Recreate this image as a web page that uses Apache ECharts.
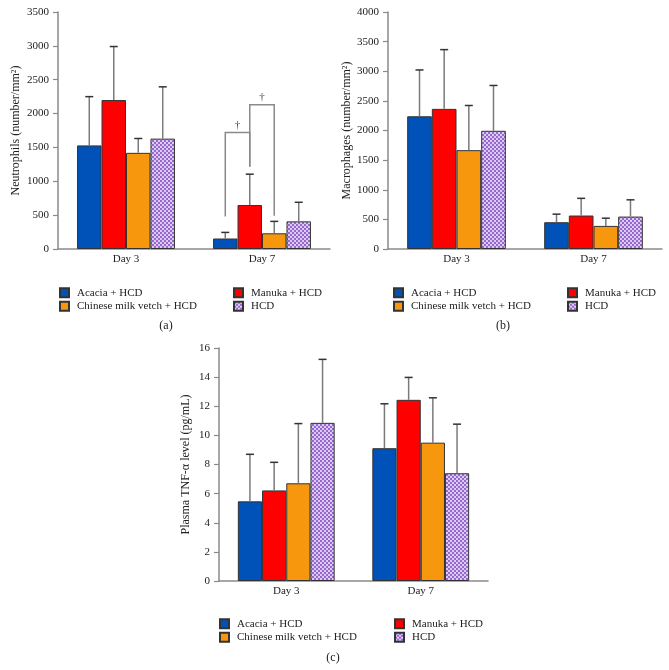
<!DOCTYPE html>
<html>
<head>
<meta charset="utf-8">
<script src="https://cdn.jsdelivr.net/npm/echarts@6/dist/echarts.min.js"></script>
<style>html,body{margin:0;padding:0;background:#fff}#c{width:669px;height:670px}</style>
</head>
<body>
<div id="c"></div>
<script>
// ---- data ----
var days = ['Day 3', 'Day 7'];
var groups = ['Acacia + HCD', 'Manuka + HCD', 'Chinese milk vetch + HCD', 'HCD'];

// (a) Neutrophils (number/mm^2): mean, mean+SD
var neuAcacia = [1530, 155];
var neuManuka = [2200, 650];
var neuVetch  = [1420, 232];
var neuHCD    = [1630, 408];
var neuAcaciaErr = [2250, 245];
var neuManukaErr = [2990, 1105];
var neuVetchErr  = [1632, 408];
var neuHCDErr    = [2395, 690];
var neuTicks = [0, 3500, 500];

// (b) Macrophages (number/mm^2)
var macAcacia = [2240, 452];
var macManuka = [2365, 565];
var macVetch  = [1668, 390];
var macHCD    = [1995, 547];
var macAcaciaErr = [3022, 588];
var macManukaErr = [3365, 855];
var macVetchErr  = [2422, 520];
var macHCDErr    = [2760, 830];
var macTicks = [0, 4000, 500];

// (c) Plasma TNF-alpha level (pg/mL)
var tnfAcacia = [5.47, 9.12];
var tnfManuka = [6.22, 12.44];
var tnfVetch  = [6.71, 9.50];
var tnfHCD    = [10.86, 7.40];
var tnfAcaciaErr = [8.70, 12.17];
var tnfManukaErr = [8.15, 13.98];
var tnfVetchErr  = [10.81, 12.58];
var tnfHCDErr    = [15.22, 10.77];
var tnfTicks = [0, 16, 2];

// significance brackets in panel (a): [category, fromGroup, toGroup, leftEnd, top, rightEnd, label]
var brackets = [
  [1, 0, 1, 480, 1720, 1215, '\u2020'],
  [1, 1, 2, 1215, 2130, 490, '\u2020']
];

// ---- styles ----
var FONT = 'Liberation Serif';
var colors = ['#0052B8', '#FF0000', '#F7970E'];
var pc = document.createElement('canvas');
pc.width = 4; pc.height = 4;
var pctx = pc.getContext('2d');
pctx.fillStyle = '#DCCCF2'; pctx.fillRect(0, 0, 4, 4);
pctx.fillStyle = '#9866CF'; pctx.fillRect(0, 0, 2, 2); pctx.fillRect(2, 2, 2, 2);
var hcdFill = { image: pc, repeat: 'repeat' };
var fills = [colors[0], colors[1], colors[2], hcdFill];
var GAP = 0.28;

var chart = echarts.init(document.getElementById('c'));

var panels = [
  { means: [neuAcacia, neuManuka, neuVetch, neuHCD], errs: [neuAcaciaErr, neuManukaErr, neuVetchErr, neuHCDErr], ticks: neuTicks,
    name: 'Neutrophils (number/mm\u00B2)', grid: { left: 58, top: 12, width: 272, height: 237 }, nameGap: 36, label: '(a)', labelPos: [166, 326],
    legendTop: 286, legendLeft: [59, 233] },
  { means: [macAcacia, macManuka, macVetch, macHCD], errs: [macAcaciaErr, macManukaErr, macVetchErr, macHCDErr], ticks: macTicks,
    name: 'Macrophages (number/mm\u00B2)', grid: { left: 388, top: 12, width: 274, height: 237 }, nameGap: 34, label: '(b)', labelPos: [503, 326],
    legendTop: 286, legendLeft: [393, 567] },
  { means: [tnfAcacia, tnfManuka, tnfVetch, tnfHCD], errs: [tnfAcaciaErr, tnfManukaErr, tnfVetchErr, tnfHCDErr], ticks: tnfTicks,
    name: 'Plasma TNF-\u03B1 level (pg/mL)', grid: { left: 219, top: 348, width: 269, height: 233 }, nameGap: 27, label: '(c)', labelPos: [333, 658],
    legendTop: 617, legendLeft: [219, 394] }
];

var grids = [], xAxes = [], yAxes = [], series = [], legends = [], graphics = [];

function barX(api, cat, k) {
  var band = api.size([1, 0])[0];
  var bw = band * (1 - GAP) / 4;
  return api.coord([cat, 0])[0] + (k - 1.5) * bw;
}

panels.forEach(function (p, pi) {
  grids.push(p.grid);
  xAxes.push({
    type: 'category', gridIndex: pi, data: days,
    axisLine: { lineStyle: { color: '#8a8a8a', width: 1.5 } },
    axisTick: { show: false },
    axisLabel: { color: '#222', fontFamily: FONT, fontSize: 11, margin: 5 }
  });
  yAxes.push({
    type: 'value', gridIndex: pi, min: p.ticks[0], max: p.ticks[1], interval: p.ticks[2],
    name: p.name, nameLocation: 'middle', nameGap: p.nameGap,
    nameTextStyle: { color: '#222', fontFamily: FONT, fontSize: 12 },
    axisLine: { show: true, lineStyle: { color: '#8a8a8a', width: 1.5 } },
    axisTick: { show: true, length: 5, lineStyle: { color: '#8a8a8a', width: 1.2 } },
    axisLabel: { color: '#222', fontFamily: FONT, fontSize: 11, margin: 9, formatter: function (v) { return String(v); } },
    splitLine: { show: false }
  });
  groups.forEach(function (g, k) {
    series.push({
      type: 'bar', name: g, xAxisIndex: pi, yAxisIndex: pi,
      data: p.means[k], barGap: '0%', barCategoryGap: (GAP * 100) + '%',
      itemStyle: { color: fills[k], borderColor: '#333', borderWidth: 1 },
      emphasis: { disabled: true }
    });
  });
  var ebData = [];
  groups.forEach(function (g, k) {
    days.forEach(function (d, c) { ebData.push([c, k, p.means[k][c], p.errs[k][c]]); });
  });
  series.push({
    type: 'custom', name: 'err' + pi, xAxisIndex: pi, yAxisIndex: pi, z: 5,
    data: ebData, silent: true,
    renderItem: function (params, api) {
      var c = api.value(0), k = api.value(1);
      var x = barX(api, c, k);
      var y0 = api.coord([c, api.value(2)])[1];
      var y1 = api.coord([c, api.value(3)])[1];
      return { type: 'group', children: [
        { type: 'line', shape: { x1: x, y1: y0, x2: x, y2: y1 }, style: { stroke: '#7a7a7a', lineWidth: 1.5 } },
        { type: 'line', shape: { x1: x - 4, y1: y1, x2: x + 4, y2: y1 }, style: { stroke: '#333', lineWidth: 1.5 } }
      ] };
    }
  });
  var legendBase = {
    top: p.legendTop, orient: 'vertical', itemGap: 0, itemWidth: 9, itemHeight: 9, padding: 0,
    icon: 'rect', selectedMode: false,
    textStyle: { color: '#222', fontFamily: FONT, fontSize: 11, padding: [0, 0, 0, 3], lineHeight: 13.5 }
  };
  legends.push(Object.assign({}, legendBase, { left: p.legendLeft[0], data: [groups[0], groups[2]] }));
  legends.push(Object.assign({}, legendBase, { left: p.legendLeft[1], data: [groups[1], groups[3]] }));
  graphics.push({ type: 'text', x: p.labelPos[0], y: p.labelPos[1], style: { text: p.label, font: '12px ' + FONT, fill: '#222', align: 'center', verticalAlign: 'middle' } });
});

series.push({
  type: 'custom', name: 'brackets', xAxisIndex: 0, yAxisIndex: 0, z: 6, silent: true,
  data: brackets.map(function (b) { return b.slice(0, 6); }),
  renderItem: function (params, api) {
    var b = brackets[params.dataIndex];
    var c = b[0];
    var xl = barX(api, c, b[1]), xr = barX(api, c, b[2]);
    var yl = api.coord([c, b[3]])[1], yt = api.coord([c, b[4]])[1], yr = api.coord([c, b[5]])[1];
    return { type: 'group', children: [
      { type: 'polyline', shape: { points: [[xl, yl], [xl, yt], [xr, yt], [xr, yr]] }, style: { stroke: '#8a8a8a', lineWidth: 1.5, fill: null } },
      { type: 'text', x: (xl + xr) / 2, y: yt - 2, style: { text: b[6], font: '11px ' + FONT, fill: '#444', align: 'center', verticalAlign: 'bottom' } }
    ] };
  }
});

chart.setOption({
  animation: false,
  backgroundColor: '#fff',
  grid: grids, xAxis: xAxes, yAxis: yAxes, series: series, legend: legends, graphic: graphics
});
</script>
</body>
</html>
